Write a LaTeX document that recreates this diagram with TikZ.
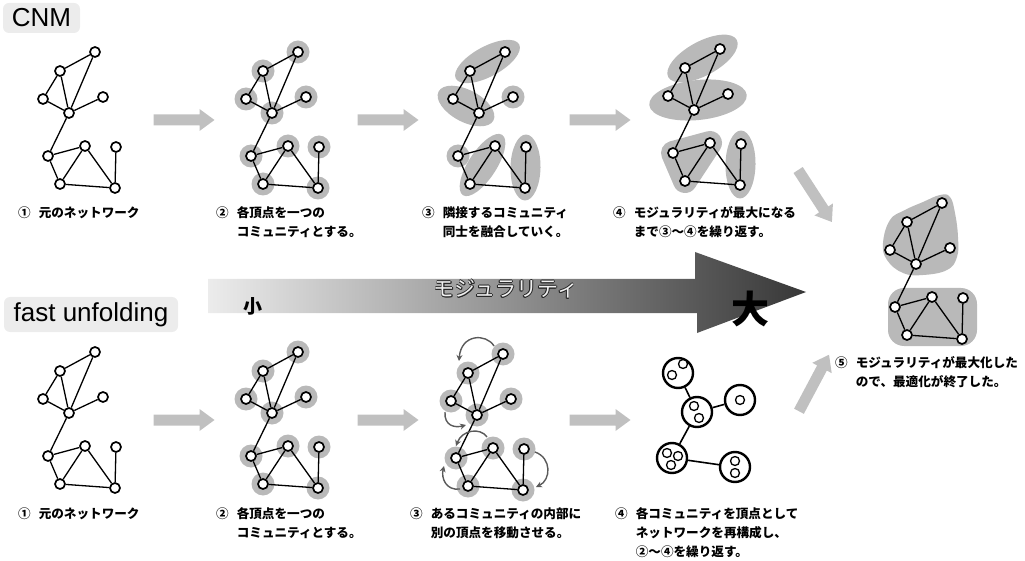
\documentclass[tikz,border=0pt]{standalone}
\usepackage{fontspec}
\setmainfont{Noto Sans CJK JP}
\newfontfamily\latinsans{Liberation Sans}
\usetikzlibrary{shapes.geometric,calc,arrows.meta}

\definecolor{halo}{RGB}{185,185,185}
\definecolor{barrow}{RGB}{192,192,192}
\definecolor{carrow}{RGB}{90,90,90}
\definecolor{titlebg}{RGB}{236,236,236}
\definecolor{gradL}{RGB}{236,236,236}
\definecolor{gradM}{RGB}{178,178,178}
\definecolor{gradR}{RGB}{55,55,55}

\newcommand{\netcoords}[3]{%
  \begin{scope}[shift={(#2,#3)}]
    \coordinate (#1a) at (95,52);
    \coordinate (#1b) at (60,71);
    \coordinate (#1c) at (43,99);
    \coordinate (#1d) at (103,97);
    \coordinate (#1e) at (69,113);
    \coordinate (#1f) at (48,156);
    \coordinate (#1g) at (85,146);
    \coordinate (#1h) at (116,147);
    \coordinate (#1i) at (60,184);
    \coordinate (#1j) at (115,188);
  \end{scope}}

\newcommand{\netdraw}[1]{%
  \foreach \nd in {a,b,c,d,e,f,g,h,i,j}{\node[vtx] (v#1\nd) at (#1\nd) {};}
  \draw[edge] (v#1a)--(v#1b) (v#1a)--(v#1e) (v#1b)--(v#1c) (v#1b)--(v#1e)
    (v#1c)--(v#1e) (v#1d)--(v#1e) (v#1e)--(v#1f) (v#1f)--(v#1g) (v#1f)--(v#1i)
    (v#1g)--(v#1i) (v#1g)--(v#1j) (v#1i)--(v#1j) (v#1h)--(v#1j);}

\newcommand{\allhalos}[1]{%
  \foreach \nd in {a,b,c,d,e,f,g,h,i,j}{\node[halonode] (h#1\nd) at (#1\nd) {};}}

\newcommand{\blockarrow}[4]{%
  \begin{scope}[shift={(#1,#2)}, rotate=#3]
    \fill[barrow] ({-#4/2},-5.5) -- ({#4/2-15},-5.5) -- ({#4/2-15},-11) -- ({#4/2},0)
      -- ({#4/2-15},11) -- ({#4/2-15},5.5) -- ({-#4/2},5.5) -- cycle;
  \end{scope}}

\newcommand{\steplabel}[5]{%
  \node[lab] (#1) at (#2,#3) {\begin{tabular}[t]{@{}l@{\hspace{8pt}}l@{}}#4&#5\end{tabular}};}

\begin{document}
\begin{tikzpicture}[x=1pt,y=-1pt,
  vtx/.style={circle, draw=black, fill=white, line width=1.7pt, minimum size=10pt, inner sep=0pt},
  edge/.style={line width=1.3pt},
  halonode/.style={circle, fill=halo, minimum size=23pt, inner sep=0pt},
  grp/.style={ellipse, fill=halo, inner sep=0pt},
  supv/.style={circle, draw=black, fill=white, line width=2.4pt, minimum size=30pt, inner sep=0pt},
  subv/.style={circle, draw=black, fill=white, line width=1.3pt, minimum size=9pt, inner sep=0pt},
  carr/.style={draw=carrow, line width=1.4pt, -{Stealth[length=6pt,width=6pt]}},
  titlebox/.style={fill=titlebg, rounded corners=6pt, inner sep=0pt, font=\latinsans\fontsize{26}{26}\selectfont},
  lab/.style={anchor=base west, inner sep=0pt, font=\bfseries\fontsize{12.6}{19}\selectfont},
  modtext/.style={inner sep=0pt, font=\fontsize{21}{21}\selectfont}
]
\useasboundingbox (0,0) rectangle (1025,561);

% coordinates of the networks
\netcoords{TA}{0}{0}
\netcoords{TB}{203}{0}
\netcoords{TC}{410}{0}
\netcoords{TD}{625}{-3}
\netcoords{FN}{847}{151}
\netcoords{BA}{0}{300}
\netcoords{BB}{203}{300}
\netcoords{BC}{408}{302}

% titles
\node[titlebox, minimum width=77pt, minimum height=30pt] (tcnm) at (41.5,18) {CNM};
\node[titlebox, minimum width=174pt, minimum height=35pt] (tfu) at (91,314.5) {fast unfolding};

% big gradient arrow
\shade[left color=gradL, middle color=gradM, right color=gradR]
  (208,279) -- (695,279) -- (695,252) -- (806,292) -- (697,333) -- (697,313) -- (208,313) -- cycle;
\foreach \dx/\dy [count=\k] in {0.7/0,-0.7/0,0/0.7,0/-0.7,0.5/0.5,-0.5/0.5,0.5/-0.5,-0.5/-0.5}
  {\node[modtext, text=black!85] (mjs\k) at (506+\dx,289+\dy) {モジュラリティ};}
\node[modtext, text=white!94!black] (mj) at (506,289) {モジュラリティ};
\node[inner sep=0pt, font=\bfseries\fontsize{19}{19}\selectfont] (small) at (253,306) {小};
\node[inner sep=0pt, font=\bfseries\fontsize{38}{38}\selectfont] (large) at (750,309) {大};

% block arrows
\blockarrow{184}{120}{0}{61}
\blockarrow{388}{120}{0}{61}
\blockarrow{600}{120}{0}{61}
\blockarrow{184}{420}{0}{61}
\blockarrow{388}{420}{0}{61}
\blockarrow{600}{420}{0}{61}
\blockarrow{815}{196}{-57}{62}
\blockarrow{814}{383}{62}{64}

% ---- CNM row ----
\netdraw{TA}

\allhalos{TB}
\netdraw{TB}

\node[grp, minimum width=72pt, minimum height=30pt, rotate=28.5] (gTCab) at ($(TCa)!.5!(TCb)$) {};
\node[grp, minimum width=62pt, minimum height=32pt, rotate=-28] (gTCce) at ($(TCc)!.5!(TCe)$) {};
\node[halonode] (gTCd) at (TCd) {};
\node[halonode] (gTCf) at (TCf) {};
\node[grp, minimum width=72pt, minimum height=28pt, rotate=57] (gTCgi) at ($(TCg)!.5!(TCi)$) {};
\node[grp, minimum width=66pt, minimum height=30pt, rotate=89] (gTChj) at ($(TCh)!.5!(TCj)$) {};
\netdraw{TC}

\node[grp, minimum width=78pt, minimum height=34pt, rotate=28.5] (gTDab) at ($(TDa)!.5!(TDb)$) {};
\node[grp, minimum width=98pt, minimum height=40pt, rotate=6] (gTDcde) at ($(TDc)!.5!(TDd)+(0,5)$) {};
\filldraw[halo, line width=24pt, line join=round] (TDf) -- (TDg) -- (TDi) -- cycle;
\node[grp, minimum width=68pt, minimum height=30pt, rotate=89] (gTDhj) at ($(TDh)!.5!(TDj)$) {};
\netdraw{TD}

% ---- final ----
\fill[halo] plot[smooth cycle, tension=0.7] coordinates {(883,243) (890,220) (905,210) (923,202) (940,195) (950,197) (955,213) (958,237) (957,257) (947,270) (923,275) (903,273) (887,260)};
\fill[halo, rounded corners=16pt] (888,288) rectangle (977,346);
\netdraw{FN}

% ---- fast unfolding row ----
\netdraw{BA}

\allhalos{BB}
\netdraw{BB}

\allhalos{BC}
\netdraw{BC}
\draw[carr] ($(hBCa)+(-9,-8)$) .. controls ($(hBCa)+(-17,-21)$) and ($(hBCb)+(-7,-39)$) .. ($(hBCb)+(-9,-12)$);
\draw[carr] ($(hBCc)+(-6,11)$) .. controls ($(hBCc)+(-7,25)$) and ($(hBCe)+(-22,13)$) .. ($(hBCe)+(-11,10)$);
\draw[carr] ($(hBCg)+(-6,-11)$) .. controls ($(hBCg)+(-13,-21)$) and ($(hBCf)+(6,-28)$) .. ($(hBCf)+(0,-12)$);
\draw[carr] ($(hBCi)+(-8,3)$) .. controls ($(hBCi)+(-22,5)$) and ($(hBCf)+(-15,20)$) .. ($(hBCf)+(-12,8)$);
\draw[carr] ($(hBCh)+(11,3)$) .. controls ($(hBCh)+(28,9)$) and ($(hBCj)+(28,-10)$) .. ($(hBCj)+(13,-3)$);

% super-node network
\node[supv] (S1) at (678,373) {};
\node[supv] (S2) at (740,400) {};
\node[supv] (S3) at (697,412) {};
\node[supv] (S4) at (672,458) {};
\node[supv] (S5) at (735,467) {};
\draw[edge, line width=1.6pt] (S1)--(S3) (S3)--(S2) (S3)--(S4) (S4)--(S5);
\node[subv] (S1a) at (683,364) {};
\node[subv] (S1b) at (672,375) {};
\node[subv] (S2a) at (740,400) {};
\node[subv] (S3a) at (694,406) {};
\node[subv] (S3b) at (699,418) {};
\node[subv] (S4a) at (667,453) {};
\node[subv] (S4b) at (678,456) {};
\node[subv] (S4c) at (671,465) {};
\node[subv] (S5a) at (735,461) {};
\node[subv] (S5b) at (735,473) {};

% labels
\steplabel{lTA}{18}{218}{①}{元のネットワーク}
\steplabel{lTB}{216}{218}{②}{各頂点を一つの\\&コミュニティとする。}
\steplabel{lTC}{422}{218}{③}{隣接するコミュニティ\\&同士を融合していく。}
\steplabel{lTD}{613}{218}{④}{モジュラリティが最大になる\\&まで③～④を繰り返す。}
\steplabel{lBA}{18}{518}{①}{元のネットワーク}
\steplabel{lBB}{216}{518}{②}{各頂点を一つの\\&コミュニティとする。}
\steplabel{lBC}{410}{518}{③}{あるコミュニティの内部に\\&別の頂点を移動させる。}
\steplabel{lBD}{615}{518}{④}{各コミュニティを頂点として\\&ネットワークを再構成し、\\&②～④を繰り返す。}
\steplabel{lFN}{835}{367}{⑤}{モジュラリティが最大化した\\&ので、最適化が終了した。}
\end{tikzpicture}
\end{document}
